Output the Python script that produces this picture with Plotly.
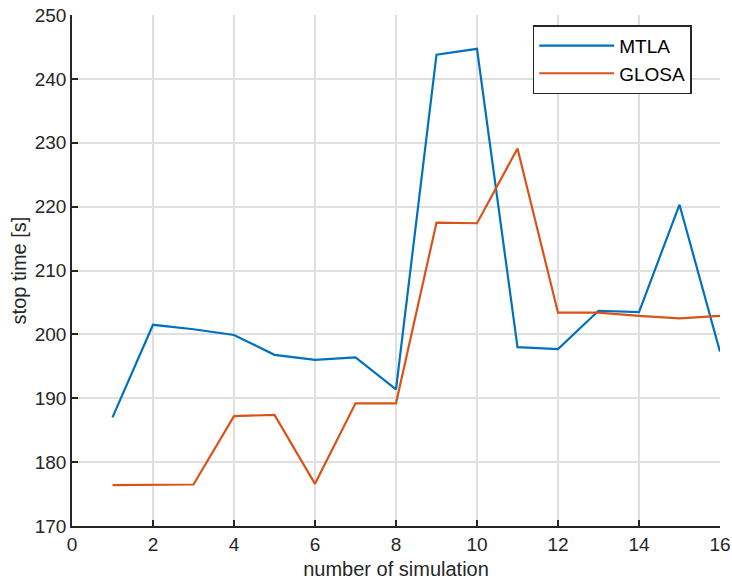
import plotly.graph_objects as go

sim = list(range(1, 17))
mtla = [187.0, 201.5, 200.8, 199.9, 196.8, 196.0, 196.4, 191.4,
        243.8, 244.7, 198.0, 197.7, 203.7, 203.5, 220.3, 197.3]
glosa = [176.4, 176.4, 176.5, 187.2, 187.4, 176.6, 189.2, 189.2,
         217.5, 217.4, 229.1, 203.4, 203.4, 202.9, 202.5, 202.9]
xticks = list(range(0, 17, 2))
yticks = list(range(170, 251, 10))

fig = go.Figure()
fig.add_trace(go.Scatter(x=sim, y=mtla, mode="lines", name="MTLA",
                         line=dict(color="#0072BD", width=2.2)))
fig.add_trace(go.Scatter(x=sim, y=glosa, mode="lines", name="GLOSA",
                         line=dict(color="#D95319", width=2.2)))

font = "Liberation Sans, Arial, sans-serif"
axis_common = dict(showline=True, linecolor="#262626", linewidth=1.5,
                   ticks="inside", ticklen=6, tickwidth=1.5, tickcolor="#262626",
                   showgrid=True, gridcolor="#dfdfdf", gridwidth=1.5,
                   zeroline=False, mirror=False, automargin=False,
                   tickfont=dict(family=font, size=19, color="#262626"))

fig.update_layout(
    width=732, height=582,
    margin=dict(l=72, r=12, t=15, b=56),
    paper_bgcolor="white", plot_bgcolor="white",
    font=dict(family=font, color="#262626"),
    xaxis=dict(range=[0, 16], tickvals=xticks,
               title=dict(text="number of simulation", font=dict(size=20), standoff=8),
               **axis_common),
    yaxis=dict(range=[170, 250], tickvals=yticks,
               title=dict(text="stop time [s]", font=dict(size=20), standoff=3),
               **axis_common),
    legend=dict(x=0.711, y=0.98, xanchor="left", yanchor="top",
                bgcolor="white", bordercolor="#262626", borderwidth=1.5,
                itemwidth=75,
                font=dict(family=font, size=19, color="#000000")),
    showlegend=True,
)

fig.write_html("out.html")
